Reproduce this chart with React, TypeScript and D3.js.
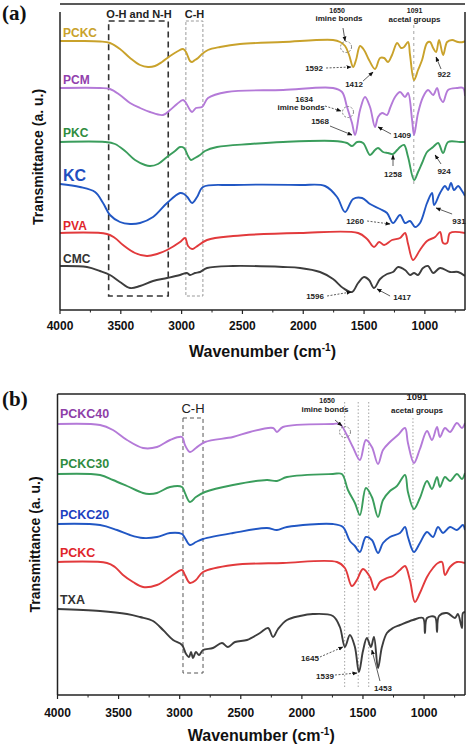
import React from "react";
import * as d3 from "d3";

type P = [number, number];

// ---------- Panel (a) spectra: [wavenumber cm-1, transmittance a.u. (stacked)] ----------
const PCKC_A: P[] = [[4000,269],[3836,269],[3671,268.5],[3589,267],[3507,261],[3424,252],[3342,245],[3276,243],[3219,244],[3161,248],[3095,254],[3029,259],[2988,261],[2964,258],[2931,249],[2914,248],[2890,250],[2865,252],[2832,256],[2783,260],[2684,263],[2520,266],[2166,268],[1755,270],[1697,268],[1656,264],[1623,255],[1590,243],[1566,250],[1533,264],[1500,260],[1459,250],[1410,241],[1368,252],[1335,252],[1303,248],[1270,255],[1228,267],[1196,262],[1171,263],[1138,268],[1122,255],[1089,230],[1056,240],[1023,250],[982,267],[957,268],[932,262],[908,258],[883,270],[850,255],[817,268],[776,270],[727,268],[686,268],[670,269]];
const PCM_A: P[] = [[4000,222],[3671,222],[3589,221],[3507,215],[3424,207],[3342,202],[3260,198],[3153,195],[3095,200],[3038,206],[2988,210],[2964,207],[2931,200],[2914,198],[2882,202],[2832,203],[2783,212],[2627,218],[2166,220],[1755,222],[1681,218],[1640,203],[1599,187],[1574,175],[1533,200],[1492,213],[1451,203],[1410,183],[1385,193],[1352,197],[1311,195],[1286,202],[1245,213],[1204,218],[1163,213],[1138,217],[1105,190],[1089,175],[1056,197],[1015,213],[974,220],[932,215],[900,222],[875,212],[850,208],[809,220],[735,222],[686,222],[670,214]];
const PKC_A: P[] = [[4000,168],[3630,168],[3548,166],[3465,159],[3383,150],[3301,145],[3260,144],[3194,146],[3120,153],[3054,159],[3013,163],[2980,162],[2947,154],[2923,150],[2890,152],[2849,155],[2808,159],[2709,163],[2437,166],[2166,168],[1755,169],[1640,167],[1599,164],[1557,168],[1508,167],[1451,155],[1410,160],[1385,162],[1344,158],[1303,157],[1262,156],[1228,160],[1204,163],[1171,165],[1138,153],[1089,130],[1056,138],[1023,147],[982,158],[932,163],[891,167],[850,157],[809,168],[711,168],[670,168]];
const KC_A: P[] = [[4000,126],[3836,123],[3712,118],[3646,107],[3589,95],[3507,88],[3424,86],[3342,87],[3235,93],[3120,107],[3013,117],[2980,116],[2947,112],[2914,107],[2873,113],[2824,123],[2577,125],[2026,125],[1821,124],[1722,113],[1656,98],[1590,111],[1516,112],[1451,106],[1368,101],[1311,97],[1262,87],[1204,95],[1163,87],[1122,89],[1081,83],[1040,87],[982,107],[941,117],[924,105],[875,117],[834,124],[809,120],[785,127],[760,120],[727,124],[694,119],[670,114]];
const PVA_A: P[] = [[4000,77],[3614,76],[3548,72],[3482,65],[3383,57],[3285,54],[3202,56],[3120,60],[3013,68],[2972,72],[2947,64],[2914,61],[2882,63],[2791,70],[2577,74],[2026,77],[1549,77],[1475,71],[1418,63],[1376,68],[1335,65],[1270,70],[1204,72],[1163,77],[1138,66],[1097,50],[1040,60],[982,69],[916,73],[875,78],[850,67],[817,67],[793,77],[670,77]];
const CMC_A: P[] = [[4000,44],[3778,43],[3671,39],[3589,35],[3507,28],[3424,22],[3342,24],[3235,29],[3120,32],[3013,35],[2956,37],[2931,35],[2890,37],[2849,38],[2791,42],[2577,44],[2166,43],[2026,42],[1862,38],[1755,31],[1673,22],[1599,18],[1549,27],[1500,33],[1459,30],[1418,22],[1368,31],[1311,36],[1262,38],[1220,43],[1163,40],[1122,35],[1089,37],[1056,35],[1015,42],[974,44],[932,37],[875,42],[793,38],[727,38],[670,34]];

// ---------- Panel (b) spectra ----------
const PCKC40_B: P[] = [[4000,271],[3652,270],[3546,265],[3431,255],[3300,247],[3186,248],[3079,255],[2981,258],[2957,250],[2916,243],[2867,247],[2793,253],[2564,258],[2425,263],[2236,267],[2204,263],[2155,268],[1746,271],[1689,271],[1632,260],[1583,248],[1525,235],[1476,255],[1427,248],[1377,231],[1336,245],[1279,253],[1214,260],[1156,267],[1132,252],[1083,232],[1034,246],[976,264],[935,255],[894,268],[870,258],[829,267],[788,263],[731,272],[690,267],[665,272]];
const PCKC30_B: P[] = [[4000,221],[3652,220],[3546,215],[3431,209],[3300,202],[3250,201],[3186,202],[3079,208],[2981,208],[2957,202],[2916,193],[2867,198],[2793,203],[2564,210],[2286,215],[2204,214],[2122,218],[1746,221],[1673,221],[1623,205],[1566,192],[1525,180],[1476,207],[1427,198],[1377,178],[1336,195],[1279,204],[1222,209],[1156,220],[1132,203],[1083,186],[1034,197],[976,214],[935,206],[894,218],[870,208],[829,218],[788,214],[731,221],[690,216],[665,222]];
const PCKC20_B: P[] = [[4000,171],[3652,170],[3513,165],[3407,160],[3300,157],[3186,158],[3079,162],[2981,161],[2957,157],[2916,150],[2867,153],[2809,156],[2564,162],[2286,167],[2204,165],[2122,168],[1746,171],[1664,168],[1607,154],[1566,149],[1525,143],[1476,158],[1427,155],[1377,142],[1336,152],[1279,158],[1197,162],[1156,168],[1132,158],[1083,143],[1034,152],[976,163],[927,158],[886,168],[845,162],[788,168],[731,165],[682,170],[665,165]];
const PCKC_B: P[] = [[4000,133],[3595,132],[3530,128],[3464,120],[3382,113],[3300,108],[3186,110],[3079,118],[2981,125],[2957,120],[2916,112],[2867,115],[2809,123],[2564,130],[2155,132],[1713,133],[1648,127],[1591,109],[1550,115],[1500,126],[1443,118],[1402,105],[1361,113],[1304,117],[1255,119],[1197,125],[1156,129],[1116,115],[1075,93],[1034,102],[976,118],[927,127],[886,132],[853,133],[829,120],[788,128],[731,133],[665,132]];
const TXA_B: P[] = [[4000,86],[3652,84],[3431,81],[3325,78],[3218,74],[3136,65],[3054,55],[2981,50],[2948,41],[2924,38],[2907,43],[2891,37],[2867,43],[2842,40],[2809,45],[2728,47],[2654,52],[2605,48],[2547,53],[2449,55],[2343,62],[2277,67],[2236,58],[2195,66],[2122,75],[2016,79],[1910,81],[1746,79],[1689,68],[1648,48],[1607,60],[1566,48],[1533,23],[1500,44],[1468,57],[1435,48],[1410,58],[1377,27],[1345,48],[1304,62],[1255,67],[1197,70],[1091,75],[1009,77],[993,62],[976,77],[911,78],[894,63],[878,79],[812,82],[747,77],[723,81],[690,67],[682,82],[665,83]];

// ---------- Axis ticks ----------
const MAJOR_TICKS = [4000, 3500, 3000, 2500, 2000, 1500, 1000];
const MINOR_TICKS = [3750, 3250, 2750, 2250, 1750, 1250, 750];

// ---------- Annotations ----------
type Txt = { t: string; wn: number; v: number; s?: number };
type Arr = { from: P; to: P; dash?: boolean };

const TEXT_A: Txt[] = [
  { t: "1650", wn: 1722, v: 297, s: 7 },
  { t: "imine bonds", wn: 1706, v: 289 },
  { t: "1091", wn: 1085, v: 297, s: 7 },
  { t: "acetal groups", wn: 1085, v: 288 },
  { t: "1592", wn: 1911, v: 239 },
  { t: "1412", wn: 1582, v: 223 },
  { t: "922", wn: 842, v: 233 },
  { t: "1634", wn: 1993, v: 208 },
  { t: "imine bonds", wn: 2018, v: 200 },
  { t: "1568", wn: 1862, v: 186 },
  { t: "1409", wn: 1187, v: 172 },
  { t: "1258", wn: 1262, v: 133 },
  { t: "924", wn: 842, v: 136 },
  { t: "1260", wn: 1574, v: 86 },
  { t: "931", wn: 719, v: 86 },
  { t: "1596", wn: 1903, v: 11 },
  { t: "1417", wn: 1187, v: 10 },
];
const ARROWS_A: Arr[] = [
  { from: [1673, 282], to: [1656, 269] },
  { from: [1812, 242], to: [1607, 243], dash: true },
  { from: [1508, 229], to: [1426, 238] },
  { from: [867, 241], to: [908, 253] },
  { from: [1821, 204], to: [1689, 199], dash: true },
  { from: [1780, 184], to: [1599, 175] },
  { from: [1278, 176], to: [1385, 183] },
  { from: [1262, 144], to: [1262, 155] },
  { from: [867, 146], to: [916, 155] },
  { from: [1475, 89], to: [1286, 86], dash: true },
  { from: [776, 96], to: [908, 102] },
  { from: [1804, 14], to: [1607, 18], dash: true },
  { from: [1286, 14], to: [1393, 21] },
];
const CIRCLES_A: P[] = [[1648, 263], [1632, 198]];
const REFLINES_A: [number, number, number][] = [[1091, 285, 123]];

const TEXT_B: Txt[] = [
  { t: "1650", wn: 1794, v: 292, s: 7 },
  { t: "imine bonds", wn: 1811, v: 283 },
  { t: "1091", wn: 1058, v: 295, s: 9.5 },
  { t: "acetal groups", wn: 1058, v: 282 },
  { t: "1645", wn: 1934, v: 34 },
  { t: "1539", wn: 1811, v: 16 },
  { t: "1453", wn: 1336, v: 4 },
];
const ARROWS_B: Arr[] = [
  { from: [1729, 275], to: [1672, 269] },
  { from: [1852, 38], to: [1664, 48], dash: true },
  { from: [1729, 20], to: [1549, 22], dash: true },
  { from: [1361, 14], to: [1427, 45] },
];
const CIRCLES_B: P[] = [[1647, 263]];
const REFLINES_B: [number, number, number][] = [[1650, 293, 8], [1539, 293, 8], [1453, 293, 8], [1091, 277, 115]];

const SANS = "'Liberation Sans', Arial, Helvetica, sans-serif";
const SERIF = "'Liberation Serif', 'Times New Roman', serif";

type Series = { name: string; data: P[]; color: string; labelColor: string; labelV: number; size: number };

const SERIES_A: Series[] = [
  { name: "PCKC", data: PCKC_A, color: "#c9a22b", labelColor: "#c9a22b", labelV: 273, size: 12 },
  { name: "PCM", data: PCM_A, color: "#b47ad8", labelColor: "#9240ad", labelV: 226, size: 12 },
  { name: "PKC", data: PKC_A, color: "#3a9d5c", labelColor: "#2f8c3f", labelV: 173, size: 12 },
  { name: "KC", data: KC_A, color: "#2157c4", labelColor: "#1f4fbf", labelV: 129, size: 16 },
  { name: "PVA", data: PVA_A, color: "#e23a3c", labelColor: "#e0262b", labelV: 80, size: 12 },
  { name: "CMC", data: CMC_A, color: "#3d3d3d", labelColor: "#333333", labelV: 47, size: 12 },
];
const SERIES_B: Series[] = [
  { name: "PCKC40", data: PCKC40_B, color: "#b47ad8", labelColor: "#8e3fa8", labelV: 277, size: 12.5 },
  { name: "PCKC30", data: PCKC30_B, color: "#3a9d5c", labelColor: "#2f8c3f", labelV: 227, size: 12.5 },
  { name: "PCKC20", data: PCKC20_B, color: "#2157c4", labelColor: "#1c3fc0", labelV: 176, size: 12.5 },
  { name: "PCKC", data: PCKC_B, color: "#e23a3c", labelColor: "#e0262b", labelV: 138, size: 12.5 },
  { name: "TXA", data: TXA_B, color: "#3d3d3d", labelColor: "#333333", labelV: 91, size: 12.5 },
];

type PanelProps = {
  id: string;
  letter: string;
  left: number; right: number; top: number; bottom: number;
  xDomain: [number, number]; yMax: number;
  series: Series[];
  texts: Txt[]; arrows: Arr[]; circles: P[]; refLines: [number, number, number][];
  refDash: string;
  boxes: { x0: number; x1: number; v0: number; v1: number; stroke: string; dash: string; width: number; label: string; lx: number; lv: number; lsize: number; lweight: string }[];
  tickY: number; titleY: number; yLabelX: number; letterY: number; labelWn: number;
  sideTop: number;
};

function Panel(p: PanelProps) {
  const x = d3.scaleLinear().domain(p.xDomain).range([p.left, p.right]);
  const y = d3.scaleLinear().domain([0, p.yMax]).range([p.bottom, p.top]);
  const line = d3.line<P>().x(d => x(d[0])).y(d => y(d[1])).curve(d3.curveCatmullRom.alpha(0.5));
  const cx = (p.left + p.right) / 2;
  const cy = (p.top + p.bottom) / 2;
  return (
    <g>
      <defs>
        <clipPath id={`clip-${p.id}`}>
          <rect x={p.left} y={p.top} width={p.right - p.left} height={p.bottom - p.top} />
        </clipPath>
      </defs>
      {p.boxes.map((b, i) => (
        <g key={i}>
          <rect x={x(b.x0)} y={y(b.v1)} width={x(b.x1) - x(b.x0)} height={y(b.v0) - y(b.v1)} fill="none" stroke={b.stroke} strokeWidth={b.width} strokeDasharray={b.dash} />
          <text x={x(b.lx)} y={y(b.lv)} textAnchor="middle" fontFamily={SANS} fontSize={b.lsize} fontWeight={b.lweight} fill="#222">{b.label}</text>
        </g>
      ))}
      {p.refLines.map((r, i) => (
        <line key={i} x1={x(r[0])} x2={x(r[0])} y1={y(r[1])} y2={y(r[2])} stroke="#9a9a9a" strokeWidth={0.9} strokeDasharray={p.refDash} />
      ))}
      <g clipPath={`url(#clip-${p.id})`}>
        {p.series.map(s => (
          <path key={s.name} d={line(s.data) || ""} fill="none" stroke={s.color} strokeWidth={1.9} strokeLinejoin="round" />
        ))}
      </g>
      {p.series.map(s => (
        <text key={s.name} x={x(p.labelWn)} y={y(s.labelV)} fontFamily={SANS} fontWeight="bold" fontSize={s.size} fill={s.labelColor}>{s.name}</text>
      ))}
      {p.circles.map((c, i) => (
        <circle key={i} cx={x(c[0])} cy={y(c[1])} r={5.5} fill="none" stroke="#666" strokeWidth={0.8} strokeDasharray="2,1.5" />
      ))}
      {p.arrows.map((a, i) => (
        <line key={i} x1={x(a.from[0])} y1={y(a.from[1])} x2={x(a.to[0])} y2={y(a.to[1])} stroke="#333" strokeWidth={0.8} strokeDasharray={a.dash ? "2,1.5" : undefined} markerEnd="url(#arrowhead)" />
      ))}
      {p.texts.map((t, i) => (
        <text key={i} x={x(t.wn)} y={y(t.v)} textAnchor="middle" fontFamily={SANS} fontWeight="bold" fontSize={t.s ?? 8} fill="#222">{t.t}</text>
      ))}
      <line x1={p.left} x2={p.right} y1={p.top} y2={p.top} stroke="#222" strokeWidth={1.5} />
      <line x1={p.left} x2={p.left} y1={p.sideTop} y2={p.bottom} stroke="#222" strokeWidth={1.5} />
      <line x1={p.right} x2={p.right} y1={p.sideTop} y2={p.bottom} stroke="#222" strokeWidth={1.5} />
      <line x1={p.left} x2={p.right} y1={p.bottom} y2={p.bottom} stroke="#222" strokeWidth={1.5} />
      {MAJOR_TICKS.map(t => (
        <g key={t}>
          <line x1={x(t)} x2={x(t)} y1={p.bottom} y2={p.bottom + 4} stroke="#222" strokeWidth={1.2} />
          <text x={x(t)} y={p.tickY} textAnchor="middle" fontFamily={SANS} fontWeight="bold" fontSize={12} fill="#111">{t}</text>
        </g>
      ))}
      {MINOR_TICKS.map(t => (
        <line key={t} x1={x(t)} x2={x(t)} y1={p.bottom} y2={p.bottom + 2.5} stroke="#222" strokeWidth={1} />
      ))}
      <text x={cx} y={p.titleY} textAnchor="middle" fontFamily={SANS} fontWeight="bold" fontSize={16} fill="#111">
        Wavenumber (cm<tspan fontSize={10} dy={-6}>-1</tspan><tspan dy={6}>)</tspan>
      </text>
      <text transform={`translate(${p.yLabelX},${cy}) rotate(-90)`} textAnchor="middle" fontFamily={SANS} fontWeight="bold" fontSize={14} fill="#111">Transmittance (a. u.)</text>
      <text x={2} y={p.letterY} fontFamily={SERIF} fontWeight="bold" fontSize={21} fill="#111">{p.letter}</text>
    </g>
  );
}

export default function App() {
  return (
    <svg width={474} height={749} viewBox="0 0 474 749" style={{ position: "absolute", left: 0, top: 0, background: "#fff" }}>
      <defs>
        <marker id="arrowhead" viewBox="0 0 10 10" refX="9" refY="5" markerWidth="5" markerHeight="5" orient="auto-start-reverse" markerUnits="userSpaceOnUse">
          <path d="M0,1 L10,5 L0,9 z" fill="#111" />
        </marker>
      </defs>
      <rect x={0} y={0} width={474} height={749} fill="#fff" />
      <Panel
        id="a" letter="(a)"
        left={60} right={465} top={4} bottom={310} sideTop={12}
        xDomain={[4000, 670]} yMax={306}
        series={SERIES_A}
        texts={TEXT_A} arrows={ARROWS_A} circles={CIRCLES_A} refLines={REFLINES_A} refDash="3,3"
        boxes={[
          { x0: 3600, x1: 3110, v0: 14, v1: 289, stroke: "#333", dash: "6,4", width: 1.6, label: "O-H and N-H", lx: 3350, lv: 292, lsize: 11, lweight: "bold" },
          { x0: 2965, x1: 2825, v0: 14, v1: 289, stroke: "#9a9a9a", dash: "3,2", width: 1, label: "C-H", lx: 2894, lv: 292, lsize: 11, lweight: "bold" },
        ]}
        tickY={330} titleY={357} yLabelX={43} letterY={20} labelWn={3975}
      />
      <Panel
        id="b" letter="(b)"
        left={57.5} right={465} top={394} bottom={695} sideTop={394}
        xDomain={[4000, 665]} yMax={301}
        series={SERIES_B}
        texts={TEXT_B} arrows={ARROWS_B} circles={CIRCLES_B} refLines={REFLINES_B} refDash="1.5,2"
        boxes={[
          { x0: 2973, x1: 2809, v0: 22, v1: 277, stroke: "#555", dash: "4,3", width: 1, label: "C-H", lx: 2891, lv: 282, lsize: 13, lweight: "normal" },
        ]}
        tickY={717} titleY={741} yLabelX={40} letterY={406} labelWn={3980}
      />
    </svg>
  );
}
